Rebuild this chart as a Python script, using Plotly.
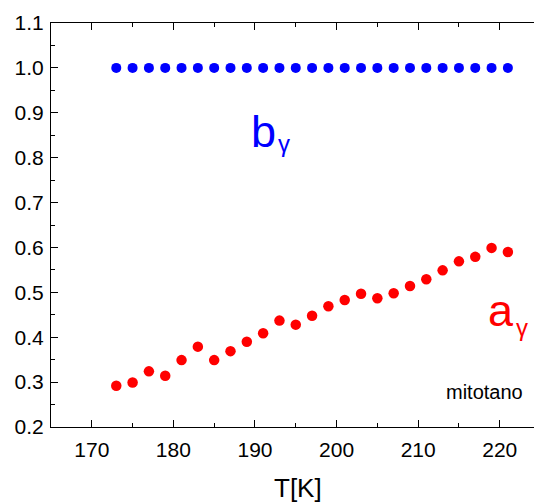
import plotly.graph_objects as go

# Temperature steps (K)
temperature_k = [173, 175, 177, 179, 181, 183, 185, 187, 189, 191, 193, 195, 197,
                 199, 201, 203, 205, 207, 209, 211, 213, 215, 217, 219, 221]

# Fitted parameters at each temperature
a_gamma = [0.292, 0.299, 0.324, 0.314, 0.349, 0.379, 0.349, 0.369, 0.390, 0.409,
           0.437, 0.428, 0.448, 0.469, 0.483, 0.497, 0.487, 0.498, 0.514, 0.529,
           0.549, 0.569, 0.579, 0.599, 0.590]
b_gamma = [1.0, 1.0, 1.0, 1.0, 1.0, 1.0, 1.0, 1.0, 1.0, 1.0, 1.0, 1.0, 1.0,
           1.0, 1.0, 1.0, 1.0, 1.0, 1.0, 1.0, 1.0, 1.0, 1.0, 1.0, 1.0]

x_tick_values = [170, 180, 190, 200, 210, 220]
y_tick_values = [0.2, 0.3, 0.4, 0.5, 0.6, 0.7, 0.8, 0.9, 1.0, 1.1]

W, H = 534, 503
ML, MR, MT, MB = 51, 0, 23, 76
PW, PH = W - ML - MR, H - MT - MB
FONT = "Liberation Sans, Arial, sans-serif"


def px_x(px):
    return (px - ML) / PW


def px_y(py):
    return (H - MB - py) / PH


fig = go.Figure()
fig.add_trace(go.Scatter(x=temperature_k, y=b_gamma, mode="markers",
                         marker=dict(color="#0000ff", size=10, line=dict(width=0)),
                         showlegend=False))
fig.add_trace(go.Scatter(x=temperature_k, y=a_gamma, mode="markers",
                         marker=dict(color="#ff0000", size=10.5, line=dict(width=0)),
                         showlegend=False))

axis_common = dict(
    showgrid=False, zeroline=False, showline=True, linecolor="black", linewidth=1,
    ticks="inside", ticklen=7, tickwidth=1, tickcolor="black",
    tickfont=dict(family=FONT, size=21, color="black"),
)

# bottom axis mirrored on top (line + ticks); the left axis is not mirrored
fig.update_xaxes(range=[165, 224.2], tickvals=x_tick_values, mirror="ticks",
                 minor=dict(ticks="inside", ticklen=4, dtick=5, tick0=165,
                            tickcolor="black", showgrid=False),
                 ticklabelstandoff=4, **axis_common)
fig.update_yaxes(range=[0.2, 1.1], tickvals=y_tick_values, tickformat=".1f",
                 mirror=False,
                 minor=dict(ticks="inside", ticklen=4, dtick=0.05, tick0=0.2,
                            tickcolor="black", showgrid=False),
                 ticklabelstandoff=2, **axis_common)

annotations = [
    dict(text="T[K]", x=px_x(298), y=px_y(488), font=dict(size=26, color="black")),
    dict(text="b", x=px_x(263), y=px_y(131.5), font=dict(size=45, color="#0000ff")),
    dict(text="γ", x=px_x(284), y=px_y(143), font=dict(size=24, color="#0000ff")),
    dict(text="a", x=px_x(501), y=px_y(310), font=dict(size=45, color="#ff0000")),
    dict(text="γ", x=px_x(522), y=px_y(327), font=dict(size=24, color="#ff0000")),
    dict(text="mitotano", x=px_x(484), y=px_y(392), font=dict(size=20, color="black")),
]
for ann in annotations:
    ann["font"]["family"] = FONT
    fig.add_annotation(xref="paper", yref="paper", showarrow=False,
                       xanchor="center", yanchor="middle", borderpad=0, **ann)

fig.update_layout(
    width=W, height=H,
    margin=dict(l=ML, r=MR, t=MT, b=MB),
    paper_bgcolor="white", plot_bgcolor="white",
)

fig.write_html("out.html")
